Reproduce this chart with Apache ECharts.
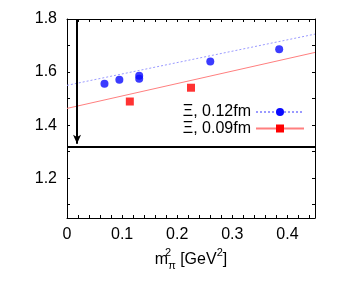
<!DOCTYPE html>
<html><head><meta charset="utf-8">
<script src="https://cdn.jsdelivr.net/npm/echarts@6/dist/echarts.min.js"></script>
<style>html,body{margin:0;padding:0;background:#fff}#c{width:343px;height:283px}</style>
</head><body><div id="c"></div>
<script>
// data
const x012 = [0.068, 0.095, 0.131, 0.131, 0.260, 0.385];
const y012 = [1.556, 1.571, 1.586, 1.575, 1.640, 1.686];
const x009 = [0.114, 0.225];
const y009 = [1.489, 1.541];
const fitX = [0, 0.45];
const fit012 = [1.550, 1.743];
const fit009 = [1.463, 1.674];
const physX = 0.0182;
const physY = 1.318;
const arrowTop = 1.8;
const xTicks = [0,0.02,0.04,0.06,0.08,0.1,0.12,0.14,0.16,0.18,0.2,0.22,0.24,0.26,0.28,0.3,0.32,0.34,0.36,0.38,0.4,0.42,0.44];
const xLabels = [0,0.1,0.2,0.3,0.4];
const yTicks = [1.1,1.2,1.3,1.4,1.5,1.6,1.7,1.8];
const yLabels = [1.2,1.4,1.6,1.8];
const name012 = 'Ξ, 0.12fm';
const name009 = 'Ξ, 0.09fm';

const FONT = 'Liberation Sans';
const chart = echarts.init(document.getElementById('c'), null, {renderer:'canvas'});
const pair = (xs, ys) => xs.map((x,i)=>[x, ys[i]]);
const tickCommon = (vals) => ({show:true, inside:true, length:3, customValues:vals, lineStyle:{color:'#000', width:1}});
const line = {show:true, onZero:false, lineStyle:{color:'#000', width:1}};

chart.setOption({
  animation:false,
  backgroundColor:'#fff',
  grid:{left:67, right:28, top:19, bottom:65, containLabel:false},
  legend:{
    data:[name012, name009], orient:'vertical', align:'right',
    right:38, top:104, padding:0, itemWidth:48, itemHeight:10, itemGap:0.5,
    textStyle:{fontFamily:FONT, fontSize:16, color:'#000', lineHeight:16},
    selectedMode:false
  },
  xAxis:[{
    type:'value', min:0, max:0.45, position:'bottom',
    axisLine:line, splitLine:{show:false},
    axisTick:tickCommon(xTicks),
    axisLabel:{customValues:xLabels, fontFamily:FONT, fontSize:16, color:'#000', margin:9},
    name:'m{s|2}{b|π} [GeV{u|2}]', nameLocation:'middle', nameGap:26,
    nameTextStyle:{fontFamily:FONT, fontSize:16, color:'#000', lineHeight:24,
      rich:{
        s:{fontFamily:FONT, fontSize:11, color:'#000', verticalAlign:'top', width:0, lineHeight:24},
        b:{fontFamily:FONT, fontSize:11, color:'#000', verticalAlign:'bottom', lineHeight:24},
        u:{fontFamily:FONT, fontSize:11, color:'#000', verticalAlign:'top', lineHeight:24}
      }}
  },{
    type:'value', min:0, max:0.45, position:'top',
    axisLine:line, splitLine:{show:false},
    axisTick:tickCommon(xTicks), axisLabel:{show:false}
  }],
  yAxis:[{
    type:'value', min:1.05, max:1.8, position:'left',
    axisLine:line, splitLine:{show:false},
    axisTick:tickCommon(yTicks),
    axisLabel:{customValues:yLabels, fontFamily:FONT, fontSize:16, color:'#000', margin:10}
  },{
    type:'value', min:1.05, max:1.8, position:'right',
    axisLine:line, splitLine:{show:false},
    axisTick:tickCommon(yTicks), axisLabel:{show:false}
  }],
  series:[
    {name:name012, type:'line', data:pair(fitX, fit012), showSymbol:false, symbol:'circle', symbolSize:8,
     itemStyle:{color:'#0a0aff'}, lineStyle:{color:'#9a9aff', width:1, type:[2,2]}, silent:true, z:2},
    {name:name009, type:'line', data:pair(fitX, fit009), showSymbol:false, symbol:'rect', symbolSize:8,
     itemStyle:{color:'#ff0000'}, lineStyle:{color:'#ff7f7f', width:1}, silent:true, z:2},
    {name:'p012', type:'scatter', data:pair(x012, y012), symbol:'circle', symbolSize:8,
     itemStyle:{color:'#0a0aff'}, z:3},
    {name:'p009', type:'scatter', data:pair(x009, y009), symbol:'rect', symbolSize:8,
     itemStyle:{color:'#ff0000'}, z:3},
    {name:'phys', type:'line', data:[], z:4,
     markLine:{silent:true, animation:false, label:{show:false}, symbol:['none','none'],
       lineStyle:{color:'#000', width:2, type:'solid'}, emphasis:{disabled:true},
       data:[
         [{coord:[0, physY]}, {coord:[0.45, physY]}],
         [{coord:[physX, arrowTop], symbol:'none'}, {coord:[physX, physY+0.012], symbol:'arrow', symbolSize:[6,9]}]
       ]}}
  ]
});
</script></body></html>
